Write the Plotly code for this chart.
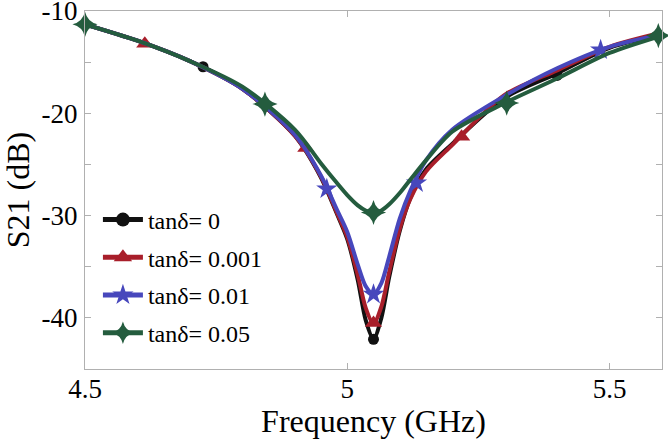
import plotly.graph_objects as go

# ---- data ----
freq = [4.5, 4.6, 4.7, 4.8, 4.9, 4.95, 4.98, 5.0, 5.02, 5.035, 5.05, 5.065, 5.08,
        5.1, 5.12, 5.15, 5.2, 5.3, 5.4, 5.5, 5.6]

s21_t0 = [-11.3, -12.9, -14.9, -17.6, -22.2, -26.3, -29.8, -32.3, -36.3, -40.2, -42.1,
          -40.0, -36.0, -31.5, -28.3, -25.5, -23.0, -18.5, -16.1, -13.6, -12.3]
s21_t001 = [-11.3, -12.9, -14.9, -17.6, -22.2, -26.2, -29.7, -32.1, -35.8, -39.0, -40.6,
            -38.9, -35.5, -31.3, -28.4, -25.7, -23.1, -18.2, -15.8, -13.5, -12.1]
s21_t01 = [-11.3, -12.9, -14.9, -17.6, -22.1, -26.1, -29.4, -31.6, -34.8, -36.9, -37.7,
           -36.6, -34.0, -30.3, -27.6, -24.6, -21.6, -18.3, -15.6, -13.5, -12.3]
s21_t05 = [-11.3, -12.9, -14.9, -17.4, -21.6, -24.9, -26.8, -28.0, -29.0, -29.5, -29.7,
           -29.5, -28.9, -27.8, -26.5, -24.6, -21.8, -19.0, -16.6, -14.1, -12.4]

mk_f_t0 = [4.725, 5.05, 5.4]
mk_v_t0 = [-15.45, -42.1, -16.3]
mk_f_t001 = [4.614, 4.921, 5.05, 5.218]
mk_v_t001 = [-13.2, -23.4, -40.5, -22.3]
mk_f_t01 = [4.961, 5.05, 5.132, 5.483]
mk_v_t01 = [-27.4, -37.7, -26.8, -13.8]
mk_f_t05 = [4.5, 4.843, 5.05, 5.304, 5.593]
mk_v_t05 = [-11.3, -19.1, -29.7, -19.0, -12.4]

names = ["tanδ= 0", "tanδ= 0.001", "tanδ= 0.01", "tanδ= 0.05"]

x_ticks = [4.5, 5.0, 5.5]
x_ticktext = ["4.5", "5", "5.5"]
y_ticks = [-40, -30, -20, -10]
y_ticktext = ["-40", "-30", "-20", "-10"]

# ---- styling ----
colors = ["#111111", "#A81E2A", "#4747BC", "#245C3E"]
symbols = ["circle", "triangle-up", "star", "star-diamond"]
msizes = [11, 15, 16, 18]
curves = [s21_t0, s21_t001, s21_t01, s21_t05]
mks = [(mk_f_t0, mk_v_t0), (mk_f_t001, mk_v_t001), (mk_f_t01, mk_v_t01), (mk_f_t05, mk_v_t05)]

FONT = "Liberation Serif, Times New Roman, DejaVu Serif, serif"
fig = go.Figure()
for i in range(4):
    fig.add_trace(go.Scatter(x=freq, y=curves[i], mode="lines", line=dict(color=colors[i], width=4, shape="spline", smoothing=0.8),
                             showlegend=False, hoverinfo="skip"))
    fig.add_trace(go.Scatter(x=mks[i][0], y=mks[i][1], mode="markers",
                             marker=dict(symbol=symbols[i], size=msizes[i], color=colors[i]),
                             showlegend=False, cliponaxis=False))
    fig.add_trace(go.Scatter(x=[None], y=[None], mode="lines+markers", name=names[i], legendgroup=str(i),
                             line=dict(color=colors[i], width=5),
                             marker=dict(symbol=symbols[i], size=msizes[i] + 3, color=colors[i])))

axcol = "#b0b0b0"
fig.update_layout(
    width=668, height=439,
    margin=dict(l=85, r=6, t=11, b=70),
    paper_bgcolor="white", plot_bgcolor="white",
    font=dict(family=FONT, color="black", size=22),
    showlegend=True,
    legend=dict(x=0.0224, y=0.479, xanchor="left", yanchor="top", bgcolor="rgba(0,0,0,0)",
                font=dict(family=FONT, size=24), tracegroupgap=3.5, itemwidth=40, traceorder="grouped"),
    xaxis=dict(range=[4.5, 5.6], tickvals=x_ticks, ticktext=x_ticktext, ticks="inside", ticklen=6,
               tickcolor=axcol, showline=True, linecolor=axcol, linewidth=1, mirror="ticks",
               showgrid=False, zeroline=False, tickfont=dict(family=FONT, size=27), ticklabelstandoff=-4,
               automargin=False, ticklabeloverflow="allow",
               title=dict(text="Frequency (GHz)", font=dict(family=FONT, size=32), standoff=10)),
    yaxis=dict(range=[-45, -10], tickvals=y_ticks, ticktext=y_ticktext, ticks="inside", ticklen=6,
               tickcolor=axcol, showline=True, linecolor=axcol, linewidth=1, mirror="ticks",
               showgrid=False, zeroline=False, tickfont=dict(family=FONT, size=27), ticklabelstandoff=1,
               automargin=False, ticklabeloverflow="allow",
               minor=dict(ticks="inside", dtick=5, ticklen=6, tickcolor=axcol, showgrid=False),
               title=dict(text="S21 (dB)", font=dict(family=FONT, size=32), standoff=2)),
)
fig.write_html("out.html", config={"displayModeBar": False},
               post_script="document.body.style.margin='0';document.body.style.overflow='hidden';")
